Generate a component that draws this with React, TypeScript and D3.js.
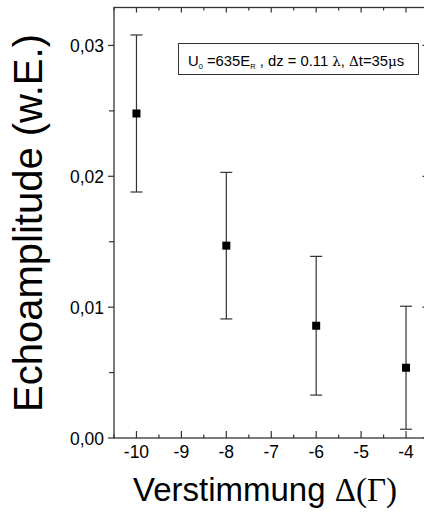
import React from "react";
import * as d3 from "d3";

const detuning = [-10, -8, -6, -4];
const amplitude = [0.0248, 0.0147, 0.00858, 0.00537];
const errorVal = [0.006, 0.0056, 0.0053, 0.0047];
const xTicks = [-10, -9, -8, -7, -6, -5, -4];
const yTicks = [0, 0.01, 0.02, 0.03];
const yTickLabels = ["0,00", "0,01", "0,02", "0,03"];

const W = 424;
const H = 512;
const left = 114;
const right = 428.5;
const top = 7.5;
const bottom = 438;

export default function App() {
  const x = d3.scaleLinear().domain([-10.5, -3.5]).range([left, right]);
  const y = d3.scaleLinear().domain([0, 0.0329]).range([bottom, top]);
  const xMinor = d3.range(-10.5, -3.4, 0.5).filter((v) => !xTicks.includes(v));
  const yMinor = [0.005, 0.015, 0.025];
  const axisColor = "#333";
  const font = "'Liberation Sans', Arial, sans-serif";

  return (
    <svg
      width={W}
      height={H}
      style={{ position: "absolute", left: 0, top: 0, background: "#fff" }}
    >
      <rect x={0} y={0} width={W} height={H} fill="#fff" />
      <rect
        x={left}
        y={top}
        width={right - left}
        height={bottom - top}
        fill="none"
        stroke={axisColor}
        strokeWidth={1.3}
      />
      {xTicks.map((t) => (
        <g key={"xt" + t}>
          <line x1={x(t)} x2={x(t)} y1={bottom} y2={bottom - 7} stroke={axisColor} strokeWidth={1.2} />
          <line x1={x(t)} x2={x(t)} y1={top} y2={top + 5} stroke={axisColor} strokeWidth={1.2} />
          <text
            x={x(t)}
            y={457.5}
            textAnchor="middle"
            fontFamily={font}
            fontSize={17.5}
            fill="#000"
          >
            {t}
          </text>
        </g>
      ))}
      {xMinor.map((t) => (
        <g key={"xm" + t}>
          <line x1={x(t)} x2={x(t)} y1={bottom} y2={bottom - 3.5} stroke={axisColor} strokeWidth={1.2} />
          <line x1={x(t)} x2={x(t)} y1={top} y2={top + 3} stroke={axisColor} strokeWidth={1.2} />
        </g>
      ))}
      {yTicks.map((t, i) => (
        <g key={"yt" + t}>
          <line x1={left - 6} x2={left} y1={y(t)} y2={y(t)} stroke={axisColor} strokeWidth={1.2} />
          <line x1={right - 6} x2={right} y1={y(t)} y2={y(t)} stroke={axisColor} strokeWidth={1.2} />
          <text
            x={104}
            y={y(t) + 6.5}
            textAnchor="end"
            fontFamily={font}
            fontSize={17.5}
            fill="#000"
          >
            {yTickLabels[i]}
          </text>
        </g>
      ))}
      {yMinor.map((t) => (
        <g key={"ym" + t}>
          <line x1={left - 5} x2={left} y1={y(t)} y2={y(t)} stroke={axisColor} strokeWidth={1.2} />
          <line x1={right - 3} x2={right} y1={y(t)} y2={y(t)} stroke={axisColor} strokeWidth={1.2} />
        </g>
      ))}
      {detuning.map((d, i) => {
        const cx = x(d);
        const yHi = y(amplitude[i] + errorVal[i]);
        const yLo = y(amplitude[i] - errorVal[i]);
        const cy = y(amplitude[i]);
        return (
          <g key={"p" + d}>
            <line x1={cx} x2={cx} y1={yHi} y2={yLo} stroke="#333" strokeWidth={1.2} />
            <line x1={cx - 6} x2={cx + 6} y1={yHi} y2={yHi} stroke="#333" strokeWidth={1.2} />
            <line x1={cx - 6} x2={cx + 6} y1={yLo} y2={yLo} stroke="#333" strokeWidth={1.2} />
            <rect x={cx - 4} y={cy - 4} width={8} height={8} fill="#000" />
          </g>
        );
      })}
      <rect x={178.5} y={43.5} width={240} height={31} fill="#fff" stroke="#333" strokeWidth={1} />
      <text x={188} y={66} fontFamily={font} fontSize={14.8} fill="#000">
        U<tspan fontSize={7.5} dy={3}>0</tspan>
        <tspan dy={-3}> =635E</tspan>
        <tspan fontSize={7.5} dy={3}>R</tspan>
        <tspan dy={-3}> , dz = 0.11 </tspan>
        <tspan fontFamily="'DejaVu Serif', serif" fontSize={13.5}>λ</tspan>
        <tspan>, </tspan>
        <tspan fontFamily="'DejaVu Serif', serif" fontSize={13.5}>Δ</tspan>
        <tspan>t=35</tspan>
        <tspan fontFamily="'DejaVu Serif', serif" fontSize={13.5}>μ</tspan>
        <tspan>s</tspan>
      </text>
      <text
        x={265}
        y={501}
        textAnchor="middle"
        fontFamily={font}
        fontSize={33}
        fill="#000"
      >
        Verstimmung <tspan fontFamily="'Liberation Serif', 'Times New Roman', serif">Δ(Γ)</tspan>
      </text>
      <text
        transform={`translate(42, 223) rotate(-90)`}
        textAnchor="middle"
        fontFamily={font}
        fontSize={40}
        fill="#000"
      >
        Echoamplitude (w.E.)
      </text>
    </svg>
  );
}
